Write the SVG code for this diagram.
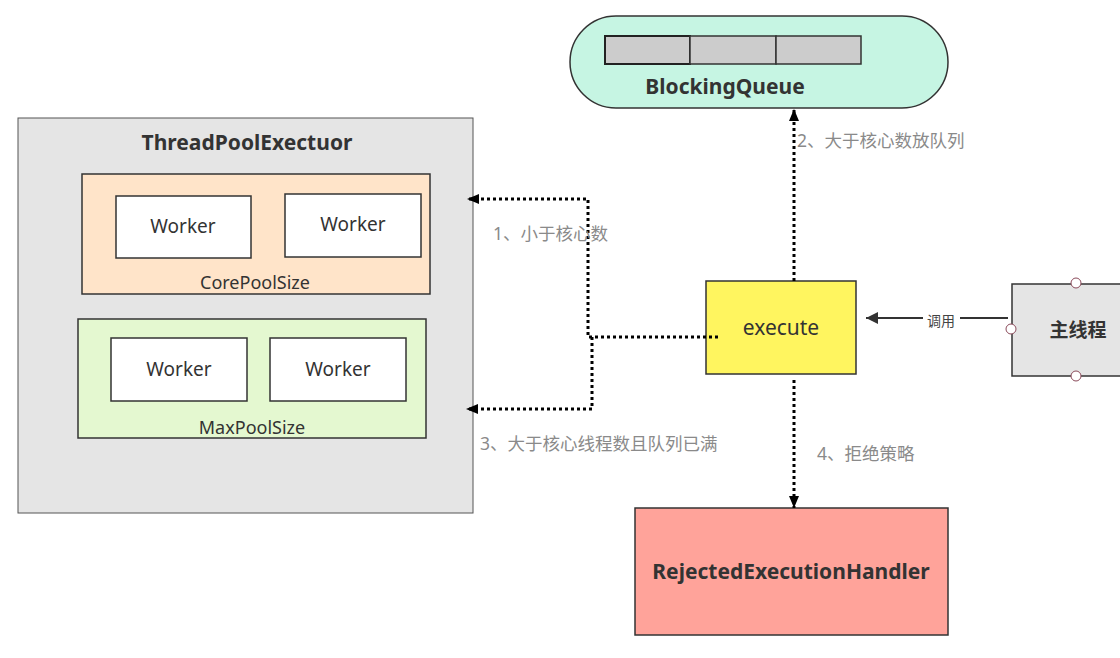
<svg xmlns="http://www.w3.org/2000/svg" width="1120" height="658" viewBox="0 0 1120 658">
<defs>
<style>
.t{font-family:"Noto Sans","Noto Sans CJK SC",sans-serif;fill:#333;text-anchor:middle}
.b{font-weight:bold}
.lbl{font-family:"Noto Sans","Noto Sans CJK SC",sans-serif;fill:#8a8a8a;font-size:17.5px}
.box{stroke:#333;stroke-width:1.5}
.dot{fill:none;stroke:#000;stroke-width:3;stroke-dasharray:3 3}
</style>
<marker id="ah" viewBox="0 0 12 10" refX="12" refY="5" markerWidth="12" markerHeight="10" markerUnits="userSpaceOnUse" orient="auto">
<path d="M0,0 L12,5 L0,10 z" fill="#000"/>
</marker>
<marker id="ah2" viewBox="0 0 10 10" refX="10" refY="5" markerWidth="14" markerHeight="12" markerUnits="userSpaceOnUse" orient="auto">
<path d="M0,0 L10,5 L0,10 z" fill="#333"/>
</marker>
</defs>
<rect width="1120" height="658" fill="#fff"/>

<g id="blockingqueue">
<rect class="box" x="570" y="16" width="378" height="92" rx="46" ry="46" fill="#c6f5e3"/>
<rect x="605" y="36" width="85" height="28" fill="#cccccc" stroke="#222" stroke-width="2"/>
<rect x="690" y="36" width="86" height="28" fill="#cccccc" stroke="#333" stroke-width="1.5"/>
<rect x="776" y="36" width="85" height="28" fill="#cccccc" stroke="#333" stroke-width="1.5"/>
<text class="t b" x="725" y="94" font-size="21">BlockingQueue</text>
</g>

<g id="threadpool">
<rect x="18" y="118" width="455" height="395" fill="#e5e5e5" stroke="#555" stroke-width="1"/>
<text class="t b" x="247" y="150" font-size="21">ThreadPoolExectuor</text>
</g>

<g id="corepool">
<rect class="box" x="82" y="174" width="348" height="120" fill="#ffe4c9"/>
<rect class="box" x="116" y="196" width="135" height="62" fill="#fff"/>
<text class="t" x="183" y="233" font-size="19">Worker</text>
<rect class="box" x="285" y="194" width="136" height="63" fill="#fff"/>
<text class="t" x="353" y="231" font-size="19">Worker</text>
<text class="t" x="255" y="289" font-size="18">CorePoolSize</text>
</g>

<g id="maxpool">
<rect class="box" x="78" y="319" width="348" height="119" fill="#e4f8d0"/>
<rect class="box" x="111" y="338" width="136" height="63" fill="#fff"/>
<text class="t" x="179" y="376" font-size="19">Worker</text>
<rect class="box" x="270" y="338" width="136" height="63" fill="#fff"/>
<text class="t" x="338" y="376" font-size="19">Worker</text>
<text class="t" x="252" y="434" font-size="18">MaxPoolSize</text>
</g>

<g id="execute">
<rect class="box" x="706" y="281" width="150" height="93" fill="#fff55f"/>
<text class="t" x="781" y="335" font-size="21">execute</text>
</g>

<g id="mainthread">
<rect class="box" x="1012" y="284" width="120" height="92" fill="#e5e5e5"/>
<text class="t b" x="1078" y="337" font-size="19">主线程</text>
<circle cx="1076" cy="283" r="5" fill="#fff" stroke="#8b4a5a" stroke-width="1"/>
<circle cx="1076" cy="376" r="5" fill="#fff" stroke="#8b4a5a" stroke-width="1"/>
<circle cx="1011" cy="329" r="5" fill="#fff" stroke="#8b4a5a" stroke-width="1"/>
</g>

<g id="rejected">
<rect class="box" x="635" y="508" width="313" height="127" fill="#ffa39a"/>
<text class="t b" x="791" y="579" font-size="21">RejectedExecutionHandler</text>
</g>

<g id="connectors">
<path class="dot" d="M718,337 L588,337 L588,199 L467,199" marker-end="url(#ah)"/>
<path class="dot" d="M592,337 L592,409 L466,409" marker-end="url(#ah)"/>
<path class="dot" d="M794,281 L794,109" marker-end="url(#ah)"/>
<path class="dot" d="M794,380 L794,508" marker-end="url(#ah)"/>
<path d="M1008,318 L866,318" fill="none" stroke="#333" stroke-width="2" marker-end="url(#ah2)"/>
<rect x="923" y="308" width="37" height="20" fill="#fff"/>
<text x="941" y="326" font-family="Noto Sans CJK SC,sans-serif" font-size="14" fill="#444" text-anchor="middle">调用</text>
<text class="lbl" x="493" y="240">1、小于核心数</text>
<text class="lbl" x="797" y="147">2、大于核心数放队列</text>
<text class="lbl" x="480" y="450">3、大于核心线程数且队列已满</text>
<text class="lbl" x="817" y="460">4、拒绝策略</text>
</g>
</svg>
